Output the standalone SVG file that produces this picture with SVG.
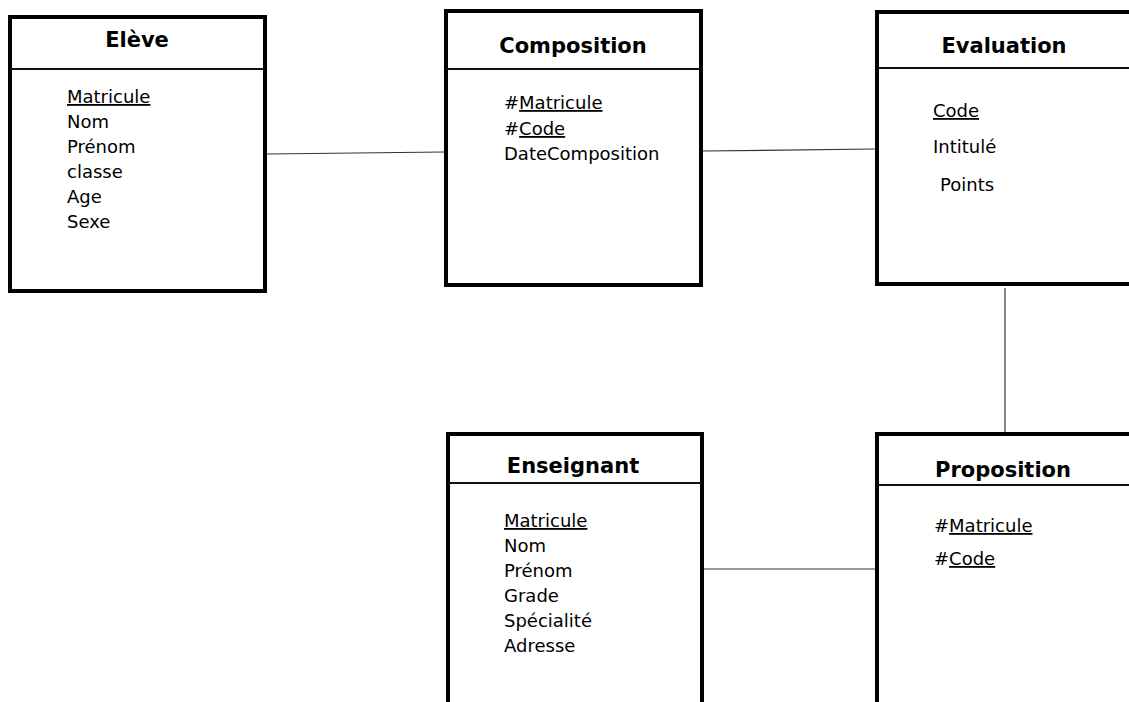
<svg xmlns="http://www.w3.org/2000/svg" width="1129" height="702" viewBox="0 0 1129 702">
  <style>
    .box { fill: #ffffff; stroke: #000000; stroke-width: 4; }
    .div { stroke: #111111; stroke-width: 2; }
    .title { font-family: "DejaVu Sans", Verdana, sans-serif; font-weight: bold; font-size: 21px; fill: #000000; text-anchor: middle; }
    .attr { font-family: "DejaVu Sans", Verdana, sans-serif; font-size: 18px; fill: #000000; }
    .key { text-decoration: underline; }
    .link { stroke: #333333; stroke-width: 1.2; fill: none; }
  </style>
  <rect width="1129" height="702" fill="#ffffff"/>

  <!-- relationships between tables -->
  <g id="connectors">
    <line class="link" x1="267" y1="154" x2="444" y2="152"/>
    <line class="link" x1="703" y1="151" x2="875" y2="149"/>
    <line class="link" x1="1005" y1="288" x2="1005" y2="432"/>
    <line class="link" x1="704" y1="569" x2="875" y2="569"/>
  </g>

  <g id="eleve">
    <rect class="box" x="10" y="17" width="255" height="274"/>
    <line class="div" x1="10" y1="69" x2="265" y2="69"/>
    <text class="title" x="137" y="47">Elève</text>
    <text class="attr" x="67" y="103"><tspan class="key">Matricule</tspan></text>
    <text class="attr" x="67" y="128">Nom</text>
    <text class="attr" x="67" y="153">Prénom</text>
    <text class="attr" x="67" y="178">classe</text>
    <text class="attr" x="67" y="203">Age</text>
    <text class="attr" x="67" y="228">Sexe</text>
  </g>

  <g id="composition">
    <rect class="box" x="446" y="11" width="255" height="274"/>
    <line class="div" x1="446" y1="69" x2="701" y2="69"/>
    <text class="title" x="573" y="53">Composition</text>
    <text class="attr" x="504" y="109">#<tspan class="key">Matricule</tspan></text>
    <text class="attr" x="504" y="135">#<tspan class="key">Code</tspan></text>
    <text class="attr" x="504" y="160">DateComposition</text>
  </g>

  <g id="evaluation">
    <rect class="box" x="877" y="12" width="300" height="272"/>
    <line class="div" x1="877" y1="68" x2="1177" y2="68"/>
    <text class="title" x="1004" y="53">Evaluation</text>
    <text class="attr" x="933" y="117"><tspan class="key">Code</tspan></text>
    <text class="attr" x="933" y="153">Intitulé</text>
    <text class="attr" x="940" y="191">Points</text>
  </g>

  <g id="enseignant">
    <rect class="box" x="448" y="434" width="254" height="300"/>
    <line class="div" x1="448" y1="483" x2="702" y2="483"/>
    <text class="title" x="573" y="473">Enseignant</text>
    <text class="attr" x="504" y="527"><tspan class="key">Matricule</tspan></text>
    <text class="attr" x="504" y="552">Nom</text>
    <text class="attr" x="504" y="577">Prénom</text>
    <text class="attr" x="504" y="602">Grade</text>
    <text class="attr" x="504" y="627">Spécialité</text>
    <text class="attr" x="504" y="652">Adresse</text>
  </g>

  <g id="proposition">
    <rect class="box" x="877" y="434" width="300" height="300"/>
    <line class="div" x1="877" y1="485" x2="1177" y2="485"/>
    <text class="title" x="1003" y="477">Proposition</text>
    <text class="attr" x="934" y="532">#<tspan class="key">Matricule</tspan></text>
    <text class="attr" x="934" y="565">#<tspan class="key">Code</tspan></text>
  </g>
</svg>
